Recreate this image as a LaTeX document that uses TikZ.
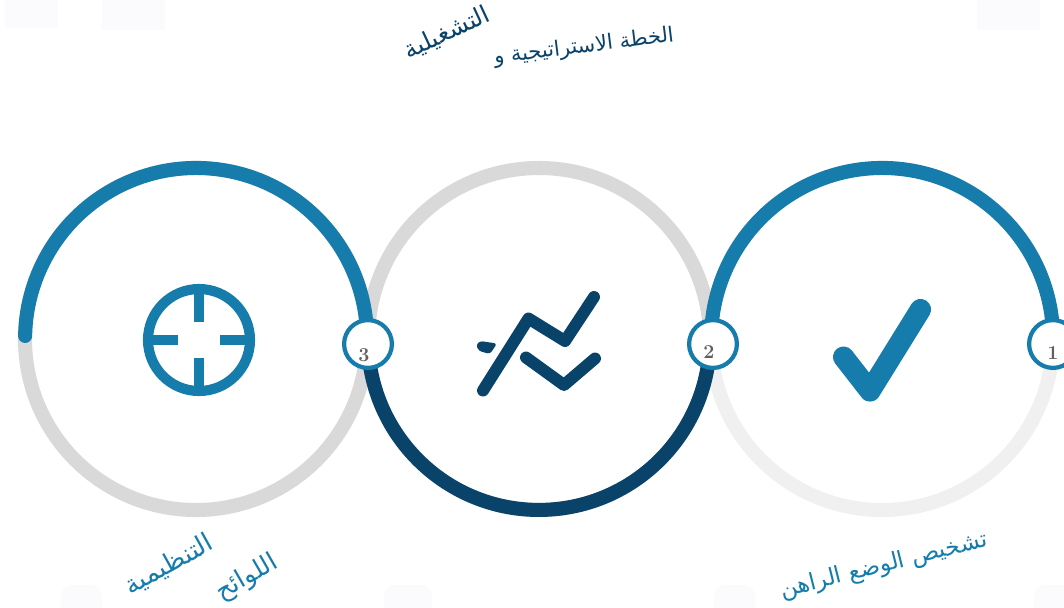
\documentclass[tikz,border=0pt]{standalone}
\usepackage{fontspec}
\newfontfamily\arabicfont[Script=Arabic]{DejaVu Sans}
\TeXXeTstate=1
\usepackage{tikz}
\definecolor{ringblue}{HTML}{167CAB}
\definecolor{ringnavy}{HTML}{0A4369}
\definecolor{ringgrey}{HTML}{D9D9D9}
\definecolor{ringpale}{HTML}{F0F0F0}
\definecolor{numgrey}{HTML}{5F5F5F}
\definecolor{ghostpale}{HTML}{FBFBFE}
\tikzset{
  ring/.style={line width=10pt},
  badge/.style={shape=circle,draw=ringblue,fill=white,line width=3pt,minimum size=34pt,inner sep=0pt},
  num/.style={text=numgrey,font=\fontsize{14}{14}\selectfont\bfseries,inner sep=0pt},
  icon/.style={line width=#1,line join=round,line cap=round},
  title/.style={text=ringnavy,font=\arabicfont\fontsize{#1}{20}\selectfont,inner sep=0pt},
  caption/.style={text=ringblue,font=\arabicfont\fontsize{#1}{22}\selectfont,inner sep=0pt},
  ghost/.style={fill=ghostpale,rounded corners=8pt},
}
\begin{document}
\begin{tikzpicture}[x=0.025cm,y=-0.025cm]
\useasboundingbox (0,0) rectangle (1064,607);

% faint marks at the edges
\fill[ghostpale] (5,0) rectangle (58,28);
\fill[ghostpale] (102,0) rectangle (165,30);
\fill[ghostpale] (977,0) rectangle (1040,30);
\fill[ghost] (61,620) rectangle (102,585);
\fill[ghost] (384,620) rectangle (432,585);
\fill[ghost] (714,620) rectangle (755,585);
\fill[ghost] (1034,620) rectangle (1080,585);

% rings
\draw[ring,ringpale] (882,339) circle (171);
\draw[ring,ringgrey] (539,339) circle (171);
\draw[ring,ringgrey] (196,339) circle (171);
\draw[ring,ringblue] (1053,344) arc[start angle=1.7,end angle=-181.7,radius=171];
\draw[ring,ringnavy] (368,344) arc[start angle=178.3,end angle=1.7,radius=171];
\draw[ring,ringblue,line cap=round] (367,344) arc[start angle=1.7,end angle=-179,radius=171];

% icons
\draw[icon=15pt,ringblue] (843.5,357) -- (870,391) -- (920.5,309.5);
\draw[line width=7.2pt,ringblue] (199,340) circle (51);
\draw[line width=6.5pt,ringblue] (199,292) -- (199,322) (199,358) -- (199,388) (147,340) -- (178,340) (220,340) -- (251,340);
\draw[icon=8.5pt,ringnavy] (483,390.5) -- (528.5,318.5) -- (565,341) -- (594,297);
\draw[icon=8.5pt,ringnavy] (526,357.5) -- (564,385) -- (595,358.5);
\fill[ringnavy,rounded corners=2pt] (480,341) -- (497,343.5) -- (490,354) -- (479,351) -- (476,345) -- cycle;

% steps
\node[badge] (b1) at (1053,344) {};
\node[badge] (b2) at (713,344) {};
\node[badge] (b3) at (368,344) {};
\node[num] (n1) at (1053,353) {\oldstylenums{1}};
\node[num] (n2) at (709,352) {\oldstylenums{2}};
\node[num] (n3) at (364,355) {\oldstylenums{3}};

% labels
\node[title=15,rotate=7] (t1) at (584,47) {\beginR الخطة الاستراتيجية و\endR};
\node[title=17.5,rotate=25] (t2) at (447,33) {\beginR التشغيلية\endR};
\node[caption=16.5,rotate=14] (c1) at (884,566) {\beginR تشخيص الوضع الراهن\endR};
\node[caption=18.5,rotate=29] (c2) at (169,565) {\beginR التنظيمية\endR};
\node[caption=18,rotate=30] (c3) at (247,578) {\beginR اللوائح\endR};
\end{tikzpicture}
\end{document}
